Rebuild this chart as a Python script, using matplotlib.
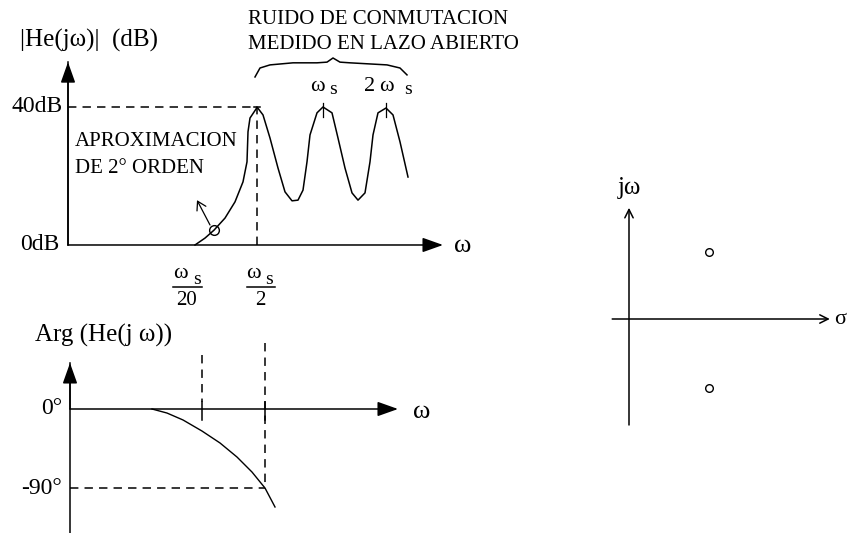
import matplotlib
matplotlib.use("Agg")
import matplotlib.pyplot as plt

plt.rcParams['font.family'] = ['Liberation Serif', 'DejaVu Serif']

# |He(jw)| in dB, sketched along an arbitrary frequency axis
mag_w = [12.7, 13.7, 14.6, 15.7, 16.7, 17.5, 17.9, 18.0, 18.2, 18.8, 18.9,
         19.5, 20.2, 21.0, 21.7, 22.4, 23.0, 23.5, 23.9, 24.2, 24.9, 25.5,
         26.4, 27.0, 27.7, 28.4, 29.0, 29.7, 30.2, 30.5, 31.0, 31.8, 32.5,
         33.2, 34.0]
mag_db = [0.0, 2.0, 4.3, 7.8, 12.5, 18.3, 24.1, 32.8, 36.8, 39.4, 40.0,
          37.7, 31.0, 22.3, 15.4, 12.8, 13.0, 15.9, 24.1, 31.9, 38.3, 40.0,
          38.3, 31.0, 22.3, 15.1, 13.0, 15.1, 24.1, 31.9, 38.3, 39.7, 37.7,
          29.9, 19.7]
peak_db = 40
ws_half = 18.9          # ws/2
noise_peaks = [25.5, 31.8]

# curly brace over the switching noise
brace_w = [18.7, 19.2, 20.2, 22.5, 24.9, 25.9, 26.5, 27.2, 28.2, 31.9, 33.2, 33.9]
brace_db = [48.7, 51.3, 52.2, 52.8, 52.8, 53.0, 54.2, 53.0, 52.8, 52.2, 51.3, 49.3]

# Arg(He(jw)) in degrees
ph_w = [8.2, 9.7, 11.3, 13.2, 15.0, 16.7, 18.2, 19.5, 20.5]
ph_deg = [0, -4.6, -12.5, -25.1, -38.7, -54.7, -71.8, -90, -111.6]
ph_marks = [13.2, 19.5]

# zeros in the s-plane
zeros_re = [1.0, 1.0]
zeros_im = [0.84, -0.86]

LW = 1.1
DASH = (5.5, 4)
CAPS = 15

fig = plt.figure(figsize=(8.5, 5.33), dpi=100)


def panel(xlim, ylim):
    ax = fig.add_axes([0, 0, 1, 1])
    ax.set_xlim(*xlim)
    ax.set_ylim(*ylim)
    ax.axis('off')
    ax.patch.set_alpha(0)
    return ax


def axis_arrow(ax, start, end, style='-|>', scale=14):
    ax.annotate('', xy=end, xytext=start,
                arrowprops=dict(arrowstyle=style, color='black', lw=LW,
                                shrinkA=0, shrinkB=0, mutation_scale=scale))


def omega_s(ax, xw, xs, y, dy):
    ax.text(xw, y, 'ω', fontsize=16, ha='center', va='center')
    ax.text(xs, y - dy, 's', fontsize=14, ha='center', va='center')


# ---- magnitude plot ----
ax1 = panel((-6.8, 78.2), (-83.48, 71.01))
axis_arrow(ax1, (0, 0), (0, 53.0), '-|>,head_length=0.9,head_width=0.32')
axis_arrow(ax1, (0, 0), (37.5, 0), '-|>,head_length=0.9,head_width=0.32')
ax1.plot([0, 0], [0, 53.0], color='black', lw=LW)
ax1.plot(mag_w, mag_db, color='black', lw=LW)
ax1.plot([0, ws_half], [peak_db, peak_db], color='black', lw=LW, dashes=DASH)
ax1.plot([ws_half, ws_half], [0, peak_db], color='black', lw=LW, dashes=DASH)
ax1.plot([ws_half - 0.3, ws_half + 0.3], [peak_db, peak_db], color='black', lw=LW)
for p in noise_peaks:
    ax1.plot([p, p], [37.1, 41.2], color='black', lw=0.9)
ax1.plot(brace_w, brace_db, color='black', lw=LW)

# marker for the second-order approximation point
ax1.plot([14.6], [4.3], marker='o', ms=7, mfc='none', mec='black', mew=1.0)
ax1.annotate('', xy=(12.9, 13.0), xytext=(14.2, 5.8),
             arrowprops=dict(arrowstyle='->,head_length=0.5,head_width=0.3',
                             color='black', lw=0.9, shrinkA=0, shrinkB=0,
                             mutation_scale=12))

ax1.text(-4.8, 59.4, '|He(jω)|  (dB)', fontsize=18, ha='left', va='center')
ax1.text(-0.5, peak_db, '40dB', fontsize=17, ha='right', va='center')
ax1.text(-0.9, 0, '0dB', fontsize=17, ha='right', va='center')
ax1.text(38.6, -0.3, 'ω', fontsize=19, ha='left', va='center')
ax1.text(0.7, 29.9, 'APROXIMACION', fontsize=CAPS, ha='left', va='center')
ax1.text(0.7, 22.3, 'DE 2° ORDEN', fontsize=CAPS, ha='left', va='center')
ax1.text(18.0, 65.5, 'RUIDO DE CONMUTACION', fontsize=CAPS, ha='left', va='center')
ax1.text(18.0, 58.0, 'MEDIDO EN LAZO ABIERTO', fontsize=CAPS, ha='left', va='center')

omega_s(ax1, 24.95, 26.5, 46.0, 0.9)
ax1.text(30.2, 46.0, '2', fontsize=16, ha='center', va='center')
omega_s(ax1, 31.85, 34.0, 46.0, 0.9)

# ws/20 and ws/2 fractions under the axis
omega_s(ax1, 11.25, 12.9, -8.4, 1.6)
ax1.plot([10.5, 13.4], [-12.2, -12.2], color='black', lw=LW)
ax1.text(11.85, -16.2, '20', fontsize=15, ha='center', va='center')
omega_s(ax1, 18.55, 20.15, -8.4, 1.6)
ax1.plot([17.9, 20.7], [-12.2, -12.2], color='black', lw=LW)
ax1.text(19.2, -16.2, '2', fontsize=15, ha='center', va='center')

# ---- phase plot ----
ax2 = panel((-7, 78), (-141.23, 465.83))
ax2.plot([0, 0], [-141.2, 52.4], color='black', lw=LW)
axis_arrow(ax2, (0, 0), (0, 52.4), '-|>,head_length=0.9,head_width=0.32')
axis_arrow(ax2, (0, 0), (32.8, 0), '-|>,head_length=0.9,head_width=0.32')
ax2.plot(ph_w, ph_deg, color='black', lw=1.0)
ax2.plot([ph_marks[0]] * 2, [61.5, 8.0], color='black', lw=LW, dashes=DASH)
ax2.plot([ph_marks[1]] * 2, [75.2, -90], color='black', lw=LW, dashes=DASH)
for m in ph_marks:
    ax2.plot([m, m], [8.0, -12.5], color='black', lw=LW)
ax2.plot([0, ph_marks[1]], [-90, -90], color='black', lw=LW, dashes=DASH)

ax2.text(-3.5, 84.3, 'Arg (He(j ω))', fontsize=18, ha='left', va='center')
ax2.text(-0.8, 0, '0°', fontsize=17, ha='right', va='center')
ax2.text(-0.8, -90, '-90°', fontsize=17, ha='right', va='center')
ax2.text(34.3, -3.4, 'ω', fontsize=19, ha='left', va='center')

# ---- s-plane ----
ax3 = panel((-7.8625, 2.7625), (-2.675, 3.9875))
axis_arrow(ax3, (-0.21, 0), (2.51, 0), '->,head_length=0.5,head_width=0.25', 12)
axis_arrow(ax3, (0, -1.325), (0, 1.39), '->,head_length=0.5,head_width=0.25', 12)
ax3.plot(zeros_re, zeros_im, ls='none', marker='o', ms=5.5, mfc='none',
         mec='black', mew=1.0)
ax3.text(0, 1.64, 'jω', fontsize=18, ha='center', va='center')
ax3.text(2.56, 0, 'σ', fontsize=16, ha='left', va='center')

fig.savefig('out.png', dpi=100)
